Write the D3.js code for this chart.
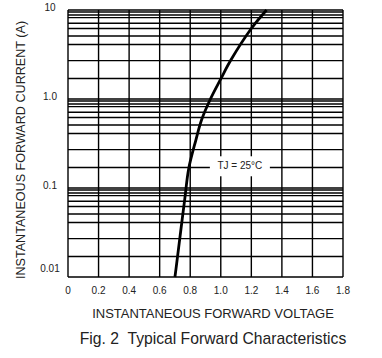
<!DOCTYPE html>
<html>
<head>
<meta charset="utf-8">
<script src="https://cdn.jsdelivr.net/npm/d3@7"></script>
<style>
	body { margin: 0; background: #fff; }
	text { font-family: "Liberation Sans", Arial, sans-serif; fill: #222; }
</style>
</head>
<body>
<div id="chart"></div>
<script>
// forward voltage (V) vs forward current (A)
var voltage = [0.70, 0.71, 0.737, 0.765, 0.79, 0.837, 0.874, 0.93, 1.00, 1.066, 1.20, 1.30];
var current = [0.01, 0.0136, 0.032, 0.077, 0.165, 0.346, 0.58, 0.98, 1.68, 2.74, 6.2, 10];

var xTicks = [0, 0.2, 0.4, 0.6, 0.8, 1.0, 1.2, 1.4, 1.6, 1.8];
var xTickLabels = ['0', '0.2', '0.4', '0.6', '0.8', '1.0', '1.2', '1.4', '1.6', '1.8'];
var decades = [10, 1, 0.1, 0.01];
var yTickLabels = ['10', '1.0', '0.1', '0.01'];
// minor grid lines inside each decade, as a fraction of the decade top (as drawn on the sheet)
var minorGrid = [0.95, 0.88, 0.82, 0.71, 0.62, 0.51, 0.41, 0.27, 0.17];

var svg = d3.select('#chart').append('svg').attr('width', 382).attr('height', 358);

var xScale = d3.scaleLinear().domain([0, 1.8]).range([68, 343]);
var yScale = d3.scaleLog().domain([0.01, 10]).range([277, 10]);

var gridLines = [];
decades.forEach(function(d) {
	gridLines.push(d);
	if (d > 0.01) {
		minorGrid.forEach(function(m) { gridLines.push(d * m); });
	}
});

var grid = svg.append('g').attr('stroke', '#000').attr('stroke-width', 1.4);

grid.selectAll('line.h')
	.data(gridLines)
	.enter()
	.append('line')
	.attr('class', 'h')
	.attr('x1', xScale(0))
	.attr('x2', xScale(1.8))
	.attr('y1', function(d) { return yScale(d); })
	.attr('y2', function(d) { return yScale(d); });

grid.selectAll('line.v')
	.data(xTicks)
	.enter()
	.append('line')
	.attr('class', 'v')
	.attr('x1', function(d) { return xScale(d); })
	.attr('x2', function(d) { return xScale(d); })
	.attr('y1', yScale(10))
	.attr('y2', yScale(0.01));

// label box knocks out the grid behind it
var labelV = 1.125, labelI = 0.18;
svg.append('rect')
	.attr('x', xScale(labelV) - 30)
	.attr('y', yScale(labelI) - 9)
	.attr('width', 60)
	.attr('height', 20)
	.attr('fill', '#fff');

svg.append('text')
	.attr('x', xScale(labelV))
	.attr('y', yScale(labelI) + 4)
	.attr('text-anchor', 'middle')
	.attr('font-size', 10)
	.text('TJ = 25°C');

var points = voltage.map(function(v, i) { return [v, current[i]]; });

var line = d3.line()
	.x(function(d) { return xScale(d[0]); })
	.y(function(d) { return yScale(d[1]); })
	.curve(d3.curveCatmullRom.alpha(0.5));

svg.append('path')
	.attr('d', line(points))
	.attr('fill', 'none')
	.attr('stroke', '#000')
	.attr('stroke-width', 2.8);

svg.append('g')
	.selectAll('text')
	.data(xTicks)
	.enter()
	.append('text')
	.attr('x', function(d) { return xScale(d); })
	.attr('y', 294)
	.attr('text-anchor', 'middle')
	.attr('font-size', 10)
	.text(function(d, i) { return xTickLabels[i]; });

svg.append('g')
	.selectAll('text')
	.data(decades)
	.enter()
	.append('text')
	.attr('x', 50)
	.attr('y', function(d) { return Math.min(yScale(d) + 1, 272); })
	.attr('text-anchor', 'middle')
	.attr('font-size', 10)
	.text(function(d, i) { return yTickLabels[i]; });

svg.append('text')
	.attr('x', 213)
	.attr('y', 318)
	.attr('text-anchor', 'middle')
	.attr('font-size', 13)
	.text('INSTANTANEOUS FORWARD VOLTAGE');

svg.append('text')
	.attr('transform', 'translate(25,150) rotate(-90)')
	.attr('text-anchor', 'middle')
	.attr('font-size', 12.6)
	.text('INSTANTANEOUS FORWARD CURRENT (A)');

svg.append('text')
	.attr('x', 213)
	.attr('y', 344)
	.attr('text-anchor', 'middle')
	.attr('font-size', 15.7)
	.style('white-space', 'pre')
	.text('Fig. 2  Typical Forward Characteristics');
</script>
</body>
</html>
